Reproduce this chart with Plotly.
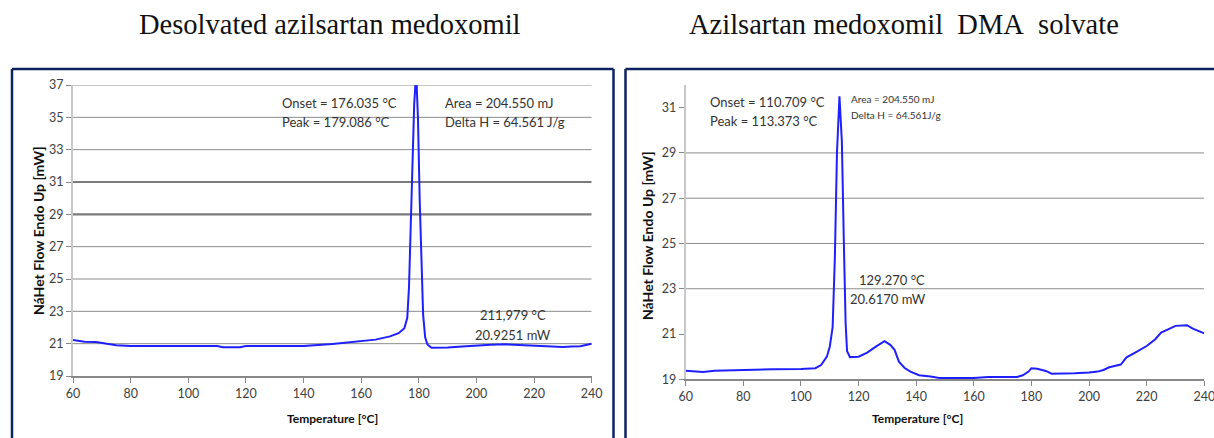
import plotly.graph_objects as go

# DSC thermogram, desolvated form
desolv_temp = [60, 64, 68, 72, 75, 80, 90, 100, 110, 112, 115, 118, 120, 130, 140, 150,
               160, 165, 170, 173, 175, 176, 176.6, 177.2, 177.8, 178.4, 179.086, 179.7,
               180.3, 180.9, 181.5, 182.2, 183, 184.4, 186, 190, 195, 200, 205, 210,
               215, 220, 225, 230, 233, 236, 240]
desolv_flow = [21.23, 21.12, 21.1, 20.98, 20.9, 20.86, 20.86, 20.86, 20.86, 20.78, 20.78, 20.78,
               20.86, 20.86, 20.86, 20.98, 21.15, 21.25, 21.45, 21.65, 21.95, 22.6, 24.5, 28.0,
               32.0, 35.8, 37.8, 35.0, 30.0, 25.5, 22.8, 21.4, 20.95, 20.75, 20.74, 20.76,
               20.82, 20.9, 20.94, 20.96, 20.92, 20.86, 20.83, 20.8, 20.82, 20.84, 21.0]

# DSC thermogram, DMA solvate
solv_temp = [60, 63, 66, 70, 80, 90, 100, 105, 107, 109, 110, 111, 111.8, 112.5, 113.373,
             114.2, 114.9, 115.5, 116, 117, 120, 123, 126, 129, 131, 132.5, 134, 136, 138,
             141, 145, 148, 160, 165, 175, 177, 179, 180, 182, 185, 187, 190, 195, 200, 203,
             205, 207, 211, 213, 216, 220, 223, 225, 228, 230, 234, 236, 240]
solv_flow = [19.38, 19.34, 19.32, 19.38, 19.42, 19.44, 19.45, 19.49, 19.63, 20.0, 20.44, 21.3,
             24.5, 29.0, 31.5, 29.5, 25.0, 21.5, 20.25, 19.98, 20.0, 20.18, 20.44, 20.68,
             20.52, 20.3, 19.78, 19.5, 19.34, 19.18, 19.12, 19.06, 19.06, 19.1, 19.1, 19.18,
             19.34, 19.49, 19.47, 19.37, 19.25, 19.27, 19.27, 19.3, 19.34, 19.41, 19.53,
             19.65, 19.97, 20.18, 20.47, 20.77, 21.06, 21.24, 21.36, 21.39, 21.24, 21.03]

x_ticks = [60, 80, 100, 120, 140, 160, 180, 200, 220, 240]
left_y_ticks = [19, 21, 23, 25, 27, 29, 31, 33, 35, 37]
left_heavy_grid = [29, 31]
right_y_ticks = [19, 21, 23, 25, 27, 29, 31]
right_grid = [23, 25, 27, 29]

W, H = 1214, 438
LINE = "#1f1fff"
TXT = "#333333"
GRID = "#8c8c8c"
FRAME = "#0f2260"
TICKFONT = dict(family="Lato, Open Sans, sans-serif", size=12.5, color="#404040")
NOTEFONT = dict(family="Lato, Open Sans, sans-serif", size=13, color=TXT)


def px(x):
    return x / W


def py(y):
    return 1 - y / H


fig = go.Figure()
fig.add_trace(go.Scatter(x=desolv_temp, y=desolv_flow, mode="lines",
                         line=dict(color=LINE, width=2), xaxis="x", yaxis="y",
                         showlegend=False, hoverinfo="skip"))
fig.add_trace(go.Scatter(x=solv_temp, y=solv_flow, mode="lines",
                         line=dict(color=LINE, width=2), xaxis="x2", yaxis="y2",
                         showlegend=False, hoverinfo="skip"))

xcommon = dict(range=[60, 240], tickvals=x_ticks, showgrid=False, zeroline=False,
               showline=True, linecolor="#888888", linewidth=2, ticks="outside",
               ticklen=5, tickcolor="#888888", tickfont=TICKFONT, fixedrange=True,
               automargin=False, ticklabeloverflow="allow")
ycommon = dict(showgrid=False, zeroline=False, showline=True, linecolor="#c8c8c8",
               linewidth=2, ticks="outside", ticklen=5, tickcolor="#888888",
               tickfont=TICKFONT, fixedrange=True, automargin=False,
               ticklabeloverflow="allow")

fig.update_layout(
    width=W, height=H, margin=dict(l=0, r=0, t=0, b=0, autoexpand=False),
    paper_bgcolor="white", plot_bgcolor="white",
    xaxis=dict(domain=[px(73), px(591.7)], anchor="y", **xcommon),
    yaxis=dict(domain=[py(376), py(85)], range=[19, 37], tickvals=left_y_ticks,
               anchor="x", **ycommon),
    xaxis2=dict(domain=[px(685.7), px(1204.3)], anchor="y2", **xcommon),
    yaxis2=dict(domain=[py(379.3), py(85)], range=[19, 32], tickvals=right_y_ticks,
                anchor="x2", **ycommon),
)

shapes = []
# horizontal gridlines of the left panel
for v in left_y_ticks[1:]:
    w = 2.2 if v in left_heavy_grid else 1
    c = "#7a7a7a" if v in left_heavy_grid else GRID
    shapes.append(dict(type="line", xref="x", yref="y", x0=60, x1=240, y0=v, y1=v,
                       line=dict(color=c, width=w), layer="below"))
# horizontal gridlines of the right panel
for v in right_grid:
    shapes.append(dict(type="line", xref="x2", yref="y2", x0=60, x1=240, y0=v, y1=v,
                       line=dict(color=GRID, width=1), layer="below"))
# panel frames
for x0, y0, x1, y1 in [(12, 69, 12, H + 5), (12, 69, 613.5, 69), (613.5, 69, 613.5, H + 5),
                       (625.5, 69, 625.5, H + 5), (625.5, 69, W + 5, 69)]:
    shapes.append(dict(type="line", xref="paper", yref="paper", x0=px(x0), x1=px(x1),
                       y0=py(y0), y1=py(y1), line=dict(color=FRAME, width=2.5)))
fig.update_layout(shapes=shapes)

ann = []
TITLEFONT = dict(family="Liberation Serif, Times New Roman, serif", size=28.5, color="#111111")
ann.append(dict(text="Desolvated azilsartan medoxomil", xref="paper", yref="paper",
                x=px(330), y=py(25), xanchor="center", yanchor="middle",
                showarrow=False, font=TITLEFONT))
ann.append(dict(text="Azilsartan medoxomil\u00a0\u00a0DMA\u00a0\u00a0solvate", xref="paper",
                yref="paper", x=px(904), y=py(25), xanchor="center", yanchor="middle",
                showarrow=False, font=TITLEFONT))

AXFONT = dict(family="Lato, Open Sans, sans-serif", size=12, color="#111111")
for cx, cy in [(38, 231), (647, 236)]:
    ann.append(dict(text="<b>NáHet Flow Endo Up [mW]</b>", xref="paper", yref="paper",
                    x=px(cx), y=py(cy), xanchor="center", yanchor="middle",
                    showarrow=False, textangle=-90, font=dict(AXFONT, size=14)))
for cx in [332, 918]:
    ann.append(dict(text="<b>Temperature [°C]</b>", xref="paper", yref="paper",
                    x=px(cx), y=py(418), xanchor="center", yanchor="middle",
                    showarrow=False, font=AXFONT))

# left panel notes
for t, x, y, xa in [("Onset = 176.035 °C", 131.8, 35.9, "left"),
                    ("Peak = 179.086 °C", 131.8, 34.72, "left"),
                    ("Area = 204.550 mJ", 188.3, 35.9, "left"),
                    ("Delta H = 64.561 J/g", 188.3, 34.72, "left"),
                    ("211,979 °C", 212.6, 22.77, "center"),
                    ("20.9251 mW", 212.6, 21.54, "center")]:
    ann.append(dict(text=t, xref="x", yref="y", x=x, y=y, xanchor=xa, yanchor="middle",
                    showarrow=False, font=NOTEFONT))
# right panel notes
for t, x, y, xa, s in [("Onset = 110.709 °C", 67.7, 31.26, "left", 13),
                       ("Peak = 113.373 °C", 67.7, 30.41, "left", 13),
                       ("Area = 204.550 mJ", 116.7, 31.38, "left", 10),
                       ("Delta H = 64.561J/g", 116.7, 30.67, "left", 10),
                       ("129.270 °C", 131.5, 23.39, "center", 13),
                       ("20.6170 mW", 130.2, 22.55, "center", 13)]:
    ann.append(dict(text=t, xref="x2", yref="y2", x=x, y=y, xanchor=xa, yanchor="middle",
                    showarrow=False, font=dict(NOTEFONT, size=s)))
fig.update_layout(annotations=ann)

fig.write_html("out.html", config=dict(displayModeBar=False))
